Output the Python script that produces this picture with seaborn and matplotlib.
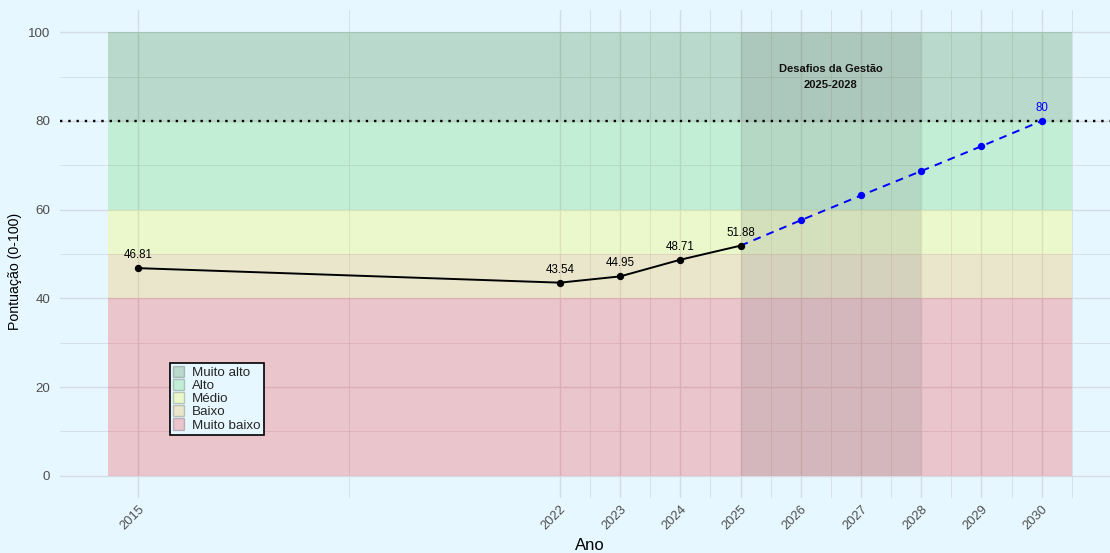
import matplotlib
matplotlib.use("Agg")
import matplotlib.pyplot as plt
from matplotlib.patches import Patch
import seaborn as sns
import pandas as pd

# --- dados ---
anos_hist = [2015, 2022, 2023, 2024, 2025]
pont_hist = [46.81, 43.54, 44.95, 48.71, 51.88]

anos_meta = [2025, 2026, 2027, 2028, 2029, 2030]
pont_meta = [51.88, 57.6, 63.2, 68.7, 74.3, 80]

anos_ticks = [2015, 2022, 2023, 2024, 2025, 2026, 2027, 2028, 2029, 2030]

faixa_nomes = ["Muito alto", "Alto", "Médio", "Baixo", "Muito baixo"]
faixa_min = [80, 60, 50, 40, 0]
faixa_max = [100, 80, 60, 50, 40]
faixa_cores = ["darkgreen", "limegreen", "yellow", "orange", "red"]

meta = 80
gestao_inicio, gestao_fim = 2025, 2028
gestao_texto = "Desafios da Gestão\n2025-2028"

# --- estilo ---
fundo = "#e6f7ff"
sns.set_theme(style="whitegrid", rc={
    "figure.facecolor": fundo,
    "axes.facecolor": fundo,
    "savefig.facecolor": fundo,
})
plt.rcParams["font.family"] = ["Liberation Sans", "DejaVu Sans"]

fig = plt.figure(figsize=(11.1, 5.53), dpi=100)
ax = fig.add_axes([60 / 1110, 55 / 553, 1060 / 1110, 488 / 553])

x_min, x_max = 2014.5, 2030.5

# grade
ax.grid(False)
for t in anos_ticks:
    ax.axvline(t, color="#d3dde3", lw=1.0, zorder=0)
minor_x = [2018.5] + [a + 0.5 for a in range(2022, 2031)]
for t in minor_x:
    ax.axvline(t, color="#d3dde3", lw=0.6, zorder=0)
for v in range(0, 101, 20):
    ax.axhline(v, color="#d3dde3", lw=1.0, zorder=0)
for v in range(10, 100, 20):
    ax.axhline(v, color="#d3dde3", lw=0.6, zorder=0)

# faixas de classificação
for lo, hi, cor in zip(faixa_min, faixa_max, faixa_cores):
    ax.fill_between([x_min, x_max], lo, hi, color=cor, alpha=0.2, lw=0, zorder=1)

# período de gestão
ax.fill_between([gestao_inicio, gestao_fim], 0, 100, color="grey", alpha=0.2, lw=0, zorder=1.5)
ax.text((gestao_inicio + gestao_fim) / 2, 89.9, gestao_texto, ha="center", va="center",
        fontsize=8.0, fontweight="bold", color="#111111", linespacing=1.75, zorder=5)

# linha de meta
ax.axhline(meta, color="black", lw=1.7, linestyle=(0, (1, 2.5)), zorder=3)

# séries
df_hist = pd.DataFrame({"Ano": anos_hist, "Pontuacao": pont_hist})
df_meta = pd.DataFrame({"Ano": anos_meta, "Pontuacao": pont_meta})

sns.lineplot(data=df_meta, x="Ano", y="Pontuacao", ax=ax, color="blue", lw=1.4,
             linestyle=(0, (4, 3.2)), zorder=4)
sns.scatterplot(data=df_meta.iloc[1:], x="Ano", y="Pontuacao", ax=ax, color="blue",
                s=28, edgecolor="blue", linewidth=0, zorder=5)
sns.lineplot(data=df_hist, x="Ano", y="Pontuacao", ax=ax, color="black", lw=1.4, zorder=4)
sns.scatterplot(data=df_hist, x="Ano", y="Pontuacao", ax=ax, color="black",
                s=28, edgecolor="black", linewidth=0, zorder=5)

for a, p in zip(anos_hist, pont_hist):
    ax.annotate(f"{p:.2f}", (a, p), xytext=(0, 5), textcoords="offset points",
                ha="center", va="bottom", fontsize=8.3, color="black", zorder=6)
ax.annotate(f"{pont_meta[-1]:g}", (anos_meta[-1], pont_meta[-1]),
            xytext=(0, 5), textcoords="offset points", ha="center", va="bottom",
            fontsize=8.3, color="blue", zorder=6)

# eixos
ax.set_xlim(2013.7, 2031.3)
ax.set_ylim(-5, 105)
ax.set_xticks(anos_ticks)
ax.set_xticklabels([str(a) for a in anos_ticks], rotation=45, ha="right",
                   rotation_mode="anchor", fontsize=9.3, color="#4d4d4d")
ax.set_yticks(range(0, 101, 20))
ax.set_yticklabels([str(v) for v in range(0, 101, 20)], fontsize=9.6, color="#4d4d4d")
ax.tick_params(axis="both", length=0)
ax.tick_params(axis="x", pad=4)
ax.tick_params(axis="y", pad=7)
for s in ax.spines.values():
    s.set_visible(False)

ax.set_xlabel("Ano", fontsize=12, color="black")
ax.set_ylabel("Pontuação (0-100)", fontsize=10.2, color="black")
ax.xaxis.set_label_coords(0.5, -0.098)
ax.yaxis.set_label_coords(-0.0425, 0.465)
ax.xaxis.label.set_va("center")
ax.yaxis.label.set_va("center")

# legenda
handles = [Patch(facecolor=c, alpha=0.2, edgecolor="black", lw=1.0) for c in faixa_cores]
leg = ax.legend(handles, faixa_nomes, loc="upper left", bbox_to_anchor=(0.1038, 0.2766),
                borderaxespad=0, fontsize=9.6, frameon=True, fancybox=False,
                handlelength=0.85, handleheight=0.9, handletextpad=0.6,
                labelspacing=0.0, borderpad=0.22, framealpha=1)
leg.get_frame().set_facecolor(fundo)
leg.get_frame().set_edgecolor("black")
leg.get_frame().set_linewidth(1.2)
for h in leg.legend_handles:
    h.set_edgecolor("black")
leg.set_zorder(10)

fig.savefig("out.png", dpi=100)
